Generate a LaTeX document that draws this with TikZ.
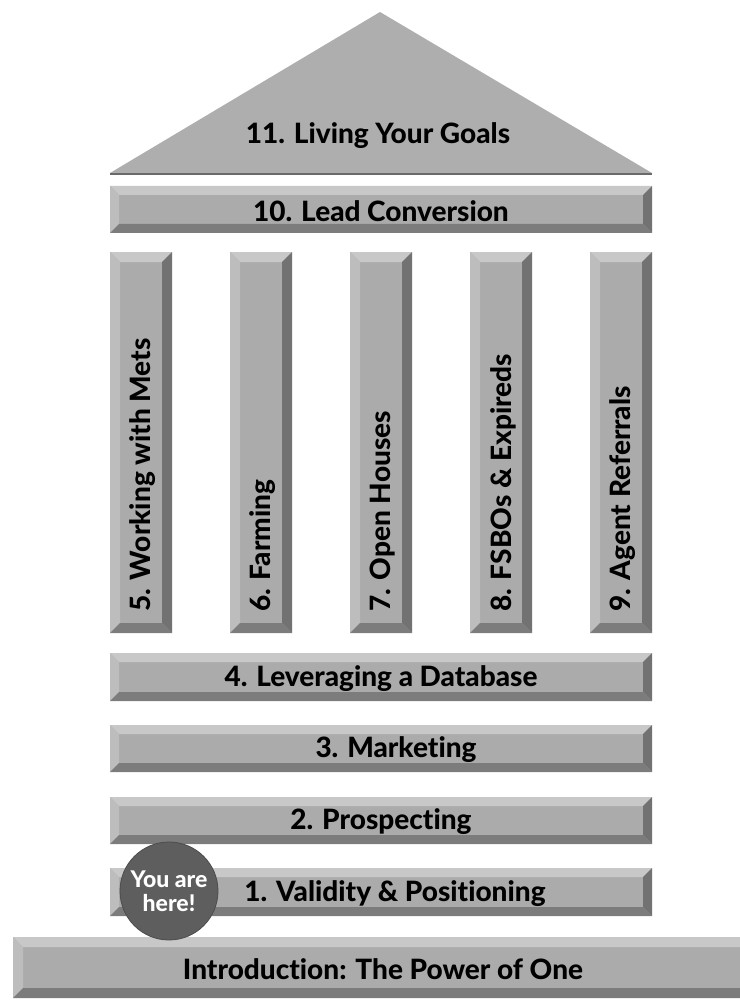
\documentclass[tikz,border=0pt]{standalone}
\usepackage{fontspec}
\setmainfont{Lato}[Ligatures=NoCommon, BoldFont={Lato Heavy}]
\definecolor{face}{HTML}{ABABAB}
\definecolor{btop}{HTML}{C8C8C8}
\definecolor{bleft}{HTML}{BDBDBD}
\definecolor{bright}{HTML}{727272}
\definecolor{bbot}{HTML}{7C7C7C}
\definecolor{roofc}{HTML}{AEAEAE}
\definecolor{roofline}{HTML}{6A6A6A}
\definecolor{herec}{HTML}{5E5E5E}
\newcommand{\bevbox}[5]{%
  \fill[face] ({#1},{#2}) rectangle ({#3},{#4});
  \fill[btop] ({#1},{#2}) -- ({#3},{#2}) -- ({#3-#5},{#2+#5}) -- ({#1+#5},{#2+#5}) -- cycle;
  \fill[bleft] ({#1},{#2}) -- ({#1+#5},{#2+#5}) -- ({#1+#5},{#4-#5}) -- ({#1},{#4}) -- cycle;
  \fill[bright] ({#3},{#2}) -- ({#3-#5},{#2+#5}) -- ({#3-#5},{#4-#5}) -- ({#3},{#4}) -- cycle;
  \fill[bbot] ({#1},{#4}) -- ({#1+#5},{#4-#5}) -- ({#3-#5},{#4-#5}) -- ({#3},{#4}) -- cycle;
}
\tikzset{
  bartext/.style={font=\bfseries\fontsize{28}{32}\selectfont, text=black, inner sep=0pt},
  coltext/.style={font=\bfseries\fontsize{28}{32}\selectfont, text=black, inner sep=0pt, rotate=90, anchor=west},
  herenode/.style={circle, fill=herec, draw=black!70, line width=0.8pt, minimum size=98pt, inner sep=0pt,
    text=white, align=center, font=\bfseries\fontsize{23}{24}\selectfont}
}
\begin{document}
\begin{tikzpicture}[x=1pt,y=-1pt]
\useasboundingbox (0,0) rectangle (739,1000);
% roof
\fill[roofc] (110,173) -- (380,12) -- (652,173) -- cycle;
\draw[roofline, line width=2.2pt] (110,174) -- (652,174);
\node[bartext] (t11) at (378,136) {11. Living Your Goals};
% lead conversion
\bevbox{110}{186}{652}{233}{9}
\node[bartext] (t10) at (381,211) {10. Lead Conversion};
% columns
\foreach \cx/\lab [count=\i] in {110/{5. Working with Mets},230/{6. Farming},350/{7. Open Houses},470/{8. FSBOs \& Expireds},590/{9. Agent Referrals}}{
  \bevbox{\cx}{252}{\cx+62}{633}{10}
  \node[coltext] (c\i) at (\cx+33,612) {\lab};
}
% bars
\bevbox{110}{653}{652}{701}{9}
\node[bartext] (t4) at (381,679) {4. Leveraging a Database};
\bevbox{110}{725}{652}{772}{9}
\node[bartext] (t3) at (396,750) {3. Marketing};
\bevbox{110}{797}{652}{844}{9}
\node[bartext] (t2) at (381,822) {2. Prospecting};
\bevbox{110}{868}{652}{916}{9}
\node[bartext] (t1) at (395,894) {1. Validity \& Positioning};
% intro
\bevbox{13}{937}{752}{998}{10}
\node[bartext] (t0) at (383,969) {Introduction: The Power of One};
% you are here
\node[herenode] (here) at (169,891) {You are\\here!};
\end{tikzpicture}
\end{document}
